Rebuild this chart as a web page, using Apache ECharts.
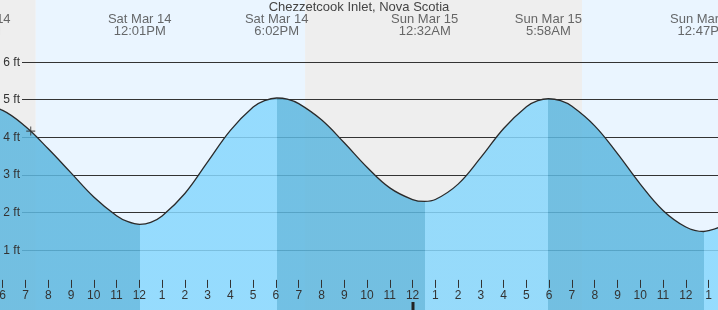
<!DOCTYPE html>
<html><head><meta charset="utf-8">
<script src="https://cdn.jsdelivr.net/npm/echarts@6/dist/echarts.min.js"></script>
<style>html,body{margin:0;padding:0;background:#fff}#c{width:718px;height:310px}</style>
</head><body><div id="c"></div>
<script>
const chartTitle = 'Chezzetcook Inlet, Nova Scotia';
// hours counted from Sat Mar 14 00:00 (local time)
const tideHours = [4.95, 6, 7, 8, 9, 10, 11, 11.5, 12.017, 12.5, 13, 14, 15, 16, 17, 17.5, 18.033, 18.5, 19, 20, 21, 22, 23, 24, 24.533, 25, 26, 27, 28, 29, 29.5, 29.967, 30.5, 31, 32, 33, 34, 35, 36, 36.783, 37, 37.5, 38];
const tideFeet  = [4.89, 4.72, 4.29, 3.70, 3.06, 2.42, 1.92, 1.76, 1.69, 1.74, 1.91, 2.51, 3.35, 4.19, 4.81, 4.98, 5.05, 5.02, 4.90, 4.47, 3.86, 3.21, 2.66, 2.35, 2.30, 2.35, 2.76, 3.47, 4.24, 4.82, 4.98, 5.03, 4.98, 4.83, 4.31, 3.57, 2.76, 2.06, 1.62, 1.50, 1.52, 1.62, 1.78];
const extremeHours  = [4.95, 12.017, 18.033, 24.533, 29.967, 36.783];
const extremeTypes  = ['high', 'low', 'high', 'low', 'high', 'low'];
const extremeLabels = ['Sat Mar 14\n4:57AM', 'Sat Mar 14\n12:01PM', 'Sat Mar 14\n6:02PM', 'Sun Mar 15\n12:32AM', 'Sun Mar 15\n5:58AM', 'Sun Mar 15\n12:47PM'];
const bandStarts = [5.881, 7.45, 19.28, 31.44];
const bandEnds   = [7.45, 19.28, 31.44, 37.414];
const bandTypes  = ['night', 'day', 'night', 'day'];
const hourTicks = [6,7,8,9,10,11,12,13,14,15,16,17,18,19,20,21,22,23,24,25,26,27,28,29,30,31,32,33,34,35,36,37];
const footTicks = [1, 2, 3, 4, 5, 6];
const nowHour = 7.23, nowFeet = 4.17;
const midnightHours = [24];

const X_MIN = 5.881, X_MAX = 37.414, Y_MIN = -0.588, Y_MAX = 7.657;
const FONT = "'Liberation Sans', Arial, sans-serif";
const COL_NIGHT = '#eeeeee', COL_DAY = '#eaf5ff';
const COL_FALL = 'rgb(93,183,223)', COL_RISE = 'rgb(135,215,253)';
const LABEL_Y = 6.97;

const tideData = tideHours.map((h, i) => [h, tideFeet[i]]);
const pieces = [{ max: extremeHours[0], color: COL_RISE }];
extremeHours.forEach((h, i) => {
  const p = { min: h, color: extremeTypes[i] === 'high' ? COL_FALL : COL_RISE };
  if (i + 1 < extremeHours.length) p.max = extremeHours[i + 1];
  pieces.push(p);
});

const chart = echarts.init(document.getElementById('c'), null, { renderer: 'canvas' });
chart.setOption({
  animation: false,
  backgroundColor: '#ffffff',
  title: { text: chartTitle, left: 'center', top: 0, padding: [1, 0, 0, 0],
    textStyle: { fontSize: 13, fontWeight: 'normal', color: '#444', fontFamily: FONT } },
  grid: [
    { left: 0, right: 0, top: 0, bottom: 0, containLabel: false, outerBoundsMode: 'none' },
    { left: 22, right: 0, top: 0, bottom: 0, containLabel: false, outerBoundsMode: 'none' }
  ],
  xAxis: [
    { type: 'value', gridIndex: 0, min: X_MIN, max: X_MAX, z: 10,
      axisLine: { show: false }, splitLine: { show: false },
      axisTick: { show: true, inside: true, length: 8, customValues: hourTicks, lineStyle: { color: '#333', width: 1 } },
      axisLabel: { show: true, inside: true, margin: 8, customValues: hourTicks, fontSize: 12, color: '#333', fontFamily: FONT,
        formatter: v => String((Math.round(v) % 12) || 12) } },
    { type: 'value', gridIndex: 1, min: 0, max: 1, show: false }
  ],
  yAxis: [
    { type: 'value', gridIndex: 0, min: Y_MIN, max: Y_MAX, show: false },
    { type: 'value', gridIndex: 1, min: Y_MIN, max: Y_MAX, z: 10,
      axisLine: { show: false }, axisTick: { show: false }, splitLine: { show: false },
      axisLabel: { show: true, margin: 2, customValues: footTicks, fontSize: 12, color: '#333', fontFamily: FONT,
        formatter: v => v + ' ft' } }
  ],
  visualMap: { show: false, type: 'piecewise', dimension: 0, seriesIndex: 2, pieces: pieces },
  series: [
    { type: 'custom', xAxisIndex: 0, yAxisIndex: 0, z: 0, silent: true, clip: false,
      data: bandStarts.map((s, i) => [s, bandEnds[i], bandTypes[i] === 'night' ? 0 : 1]),
      renderItem: (params, api) => {
        const cs = params.coordSys;
        const a = api.coord([api.value(0), 0]), b = api.coord([api.value(1), 0]);
        return { type: 'rect', shape: { x: a[0], y: cs.y, width: b[0] - a[0], height: cs.height },
          style: { fill: api.value(2) === 0 ? COL_NIGHT : COL_DAY } };
      } },
    { type: 'custom', xAxisIndex: 1, yAxisIndex: 1, z: 1, silent: true, clip: false,
      data: footTicks.map(v => [0, v]),
      renderItem: (params, api) => {
        const cs = params.coordSys;
        const p = api.coord([0, api.value(1)]);
        const y = Math.floor(p[1]) + 0.5;
        return { type: 'line', shape: { x1: cs.x, y1: y, x2: cs.x + cs.width, y2: y },
          style: { stroke: '#333', lineWidth: 1 } };
      } },
    { type: 'line', xAxisIndex: 0, yAxisIndex: 0, z: 2, data: tideData, smooth: 0.4,
      showSymbol: false, silent: true, lineStyle: { width: 0, opacity: 0 },
      areaStyle: { origin: 'start', opacity: 0.85 } },
    { type: 'line', xAxisIndex: 0, yAxisIndex: 0, z: 3, data: tideData, smooth: 0.4,
      showSymbol: false, silent: true, lineStyle: { width: 1.3, color: '#2a2a2a' }, itemStyle: { color: '#333' } },
    { type: 'custom', xAxisIndex: 0, yAxisIndex: 0, z: 4, silent: true, clip: false,
      data: midnightHours.map(h => [h, Y_MIN]),
      renderItem: (params, api) => {
        const cs = params.coordSys;
        const p = api.coord([api.value(0), api.value(1)]);
        return { type: 'rect', shape: { x: Math.round(p[0]) - 1.5, y: cs.y + cs.height - 8, width: 3, height: 8 },
          style: { fill: '#222' } };
      } },
    { type: 'scatter', xAxisIndex: 0, yAxisIndex: 0, z: 5, silent: true,
      data: [[nowHour, nowFeet]], symbol: 'path://M0,4.4h10v1.2h-10z M4.4,0h1.2v10h-1.2z', symbolSize: 9,
      itemStyle: { color: '#333' } },
    { type: 'scatter', xAxisIndex: 0, yAxisIndex: 0, z: 6, silent: true, clip: false,
      data: extremeHours.map(h => [h, LABEL_Y]), symbolSize: 0,
      label: { show: true, position: 'inside', formatter: p => extremeLabels[p.dataIndex],
        fontSize: 13, lineHeight: 12, color: '#444', fontFamily: FONT, align: 'center' } }
  ]
});
</script>
</body></html>
